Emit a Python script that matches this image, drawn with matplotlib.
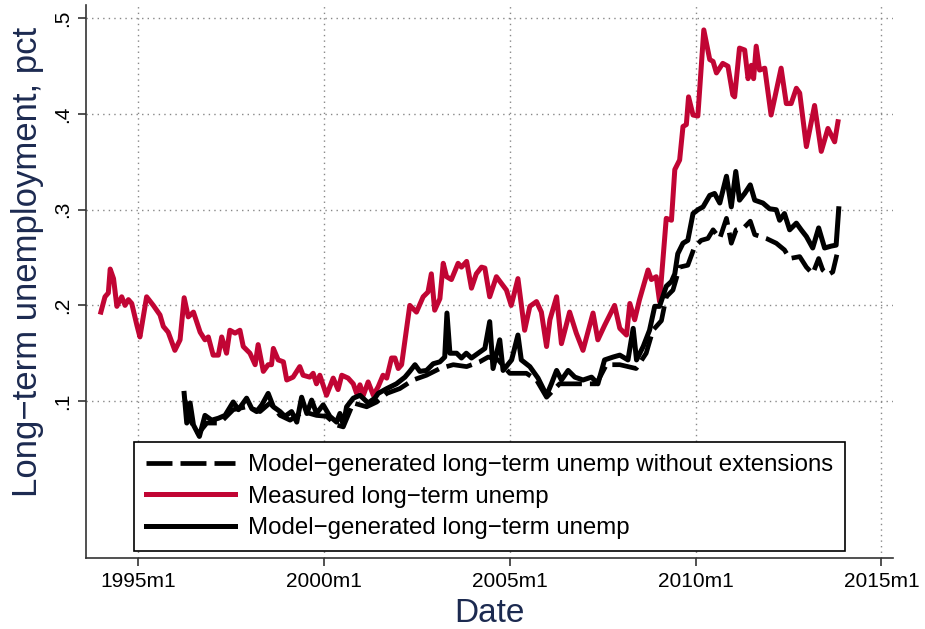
import numpy as np
import matplotlib
matplotlib.use("Agg")
import matplotlib.pyplot as plt

# dates as decimal years, values as share of labour force
meas_t = [1994.00, 1994.11, 1994.20, 1994.25, 1994.34, 1994.43, 1994.56, 1994.65, 1994.74, 1994.83,
          1994.97, 1995.05, 1995.23, 1995.41, 1995.59, 1995.68, 1995.81, 1995.99, 1996.13, 1996.24,
          1996.35, 1996.49, 1996.67, 1996.80, 1996.89, 1997.02, 1997.16, 1997.25, 1997.38, 1997.47,
          1997.61, 1997.74, 1997.83, 1998.01, 1998.15, 1998.23, 1998.37, 1998.50, 1998.59, 1998.64,
          1998.77, 1998.91, 1999.00, 1999.17, 1999.35, 1999.44, 1999.62, 1999.71, 1999.80, 1999.89,
          2000.07, 2000.25, 2000.38, 2000.48, 2000.65, 2000.79, 2000.88, 2000.97, 2001.06, 2001.19,
          2001.33, 2001.46, 2001.59, 2001.69, 2001.82, 2001.91, 2002.00, 2002.09, 2002.31, 2002.49,
          2002.67, 2002.80, 2002.89, 2002.98, 2003.12, 2003.21, 2003.30, 2003.43, 2003.61, 2003.70,
          2003.84, 2003.97, 2004.10, 2004.24, 2004.33, 2004.46, 2004.64, 2004.91, 2005.04, 2005.22,
          2005.40, 2005.54, 2005.72, 2005.85, 2005.99, 2006.08, 2006.26, 2006.39, 2006.61, 2006.79,
          2006.97, 2007.24, 2007.37, 2007.55, 2007.82, 2007.96, 2008.14, 2008.23, 2008.36, 2008.49,
          2008.72, 2008.81, 2008.94, 2009.03, 2009.21, 2009.35, 2009.44, 2009.57, 2009.66, 2009.75,
          2009.81, 2009.93, 2010.06, 2010.22, 2010.38, 2010.47, 2010.56, 2010.73, 2010.87, 2011.00,
          2011.05, 2011.18, 2011.32, 2011.41, 2011.50, 2011.56, 2011.63, 2011.72, 2011.86, 2012.03,
          2012.30, 2012.44, 2012.57, 2012.71, 2012.80, 2012.98, 2013.20, 2013.38, 2013.56, 2013.74,
          2013.83]
meas_v = [0.193, 0.209, 0.213, 0.238, 0.228, 0.199, 0.209, 0.200, 0.206, 0.202,
          0.179, 0.167, 0.209, 0.200, 0.190, 0.178, 0.172, 0.153, 0.164, 0.208,
          0.188, 0.193, 0.172, 0.164, 0.167, 0.148, 0.148, 0.167, 0.150, 0.174,
          0.171, 0.174, 0.157, 0.150, 0.138, 0.159, 0.131, 0.138, 0.138, 0.155,
          0.143, 0.141, 0.122, 0.125, 0.136, 0.127, 0.125, 0.129, 0.118, 0.127,
          0.106, 0.124, 0.112, 0.127, 0.124, 0.118, 0.108, 0.117, 0.106, 0.120,
          0.106, 0.115, 0.127, 0.124, 0.145, 0.145, 0.134, 0.138, 0.200, 0.193,
          0.209, 0.214, 0.233, 0.195, 0.207, 0.244, 0.230, 0.227, 0.244, 0.240,
          0.246, 0.218, 0.233, 0.240, 0.239, 0.209, 0.230, 0.216, 0.200, 0.228,
          0.174, 0.199, 0.204, 0.193, 0.157, 0.185, 0.209, 0.160, 0.193, 0.171,
          0.153, 0.192, 0.164, 0.179, 0.200, 0.176, 0.169, 0.202, 0.185, 0.206,
          0.237, 0.227, 0.230, 0.204, 0.291, 0.289, 0.342, 0.352, 0.387, 0.389,
          0.418, 0.399, 0.398, 0.488, 0.457, 0.455, 0.443, 0.453, 0.450, 0.420,
          0.418, 0.469, 0.467, 0.437, 0.451, 0.437, 0.471, 0.446, 0.448, 0.399,
          0.448, 0.411, 0.411, 0.427, 0.422, 0.366, 0.409, 0.361, 0.385, 0.371,
          0.392]

model_t = [1996.24, 1996.31, 1996.40, 1996.49, 1996.65, 1996.80, 1996.98, 1997.16, 1997.34, 1997.56,
           1997.70, 1997.92, 1998.06, 1998.19, 1998.33, 1998.50, 1998.64, 1998.82, 1998.95, 1999.13,
           1999.27, 1999.40, 1999.54, 1999.67, 1999.80, 1999.98, 2000.16, 2000.34, 2000.43, 2000.52,
           2000.61, 2000.79, 2000.97, 2001.19, 2001.37, 2001.46, 2001.69, 2001.95, 2002.18, 2002.31,
           2002.45, 2002.58, 2002.76, 2002.94, 2003.12, 2003.25, 2003.31, 2003.39, 2003.57, 2003.70,
           2003.83, 2003.97, 2004.15, 2004.33, 2004.46, 2004.55, 2004.73, 2004.82, 2005.05, 2005.22,
           2005.31, 2005.54, 2005.76, 2005.99, 2006.12, 2006.26, 2006.39, 2006.57, 2006.75, 2006.97,
           2007.20, 2007.37, 2007.55, 2007.78, 2007.96, 2008.18, 2008.32, 2008.41, 2008.59, 2008.76,
           2008.90, 2009.03, 2009.21, 2009.35, 2009.44, 2009.52, 2009.66, 2009.79, 2009.93, 2010.06,
           2010.20, 2010.38, 2010.51, 2010.65, 2010.83, 2010.96, 2011.08, 2011.18, 2011.32, 2011.47,
           2011.59, 2011.81, 2011.99, 2012.17, 2012.26, 2012.39, 2012.53, 2012.71, 2012.84, 2012.98,
           2013.15, 2013.31, 2013.47, 2013.65, 2013.78, 2013.85]
model_v = [0.108, 0.077, 0.098, 0.075, 0.063, 0.085, 0.080, 0.082, 0.085, 0.099,
           0.091, 0.103, 0.092, 0.089, 0.096, 0.108, 0.094, 0.089, 0.084, 0.089,
           0.078, 0.104, 0.087, 0.101, 0.087, 0.096, 0.084, 0.078, 0.087, 0.075,
           0.094, 0.103, 0.106, 0.098, 0.103, 0.108, 0.113, 0.118, 0.125, 0.131,
           0.138, 0.131, 0.132, 0.139, 0.141, 0.146, 0.192, 0.150, 0.150, 0.145,
           0.150, 0.145, 0.150, 0.155, 0.183, 0.134, 0.164, 0.132, 0.143, 0.169,
           0.143, 0.136, 0.124, 0.106, 0.118, 0.132, 0.122, 0.132, 0.125, 0.122,
           0.125, 0.118, 0.143, 0.146, 0.148, 0.143, 0.176, 0.143, 0.157, 0.174,
           0.199, 0.199, 0.220, 0.225, 0.233, 0.254, 0.265, 0.268, 0.296, 0.300,
           0.303, 0.315, 0.317, 0.307, 0.335, 0.303, 0.340, 0.310, 0.317, 0.326,
           0.310, 0.307, 0.301, 0.300, 0.289, 0.296, 0.279, 0.286, 0.279, 0.272,
           0.260, 0.281, 0.260, 0.262, 0.263, 0.301]

noext_t = [1996.26, 1996.40, 1996.62, 1996.85, 1997.20, 1997.56, 1997.92, 1998.28, 1998.55, 1998.82,
           1999.09, 1999.44, 1999.80, 2000.07, 2000.34, 2000.52, 2000.79, 2001.15, 2001.42, 2001.69,
           2002.04, 2002.40, 2002.76, 2003.12, 2003.48, 2003.84, 2004.19, 2004.42, 2004.69, 2005.00,
           2005.45, 2005.72, 2005.99, 2006.34, 2006.88, 2007.33, 2007.60, 2007.96, 2008.40, 2008.67,
           2008.85, 2009.08, 2009.21, 2009.39, 2009.57, 2009.79, 2009.97, 2010.15, 2010.33, 2010.47,
           2010.65, 2010.83, 2010.96, 2011.09, 2011.32, 2011.47, 2011.59, 2011.90, 2012.17, 2012.39,
           2012.53, 2012.80, 2012.98, 2013.15, 2013.31, 2013.42, 2013.56, 2013.69, 2013.80]
noext_v = [0.101, 0.080, 0.066, 0.077, 0.077, 0.091, 0.094, 0.089, 0.098, 0.085,
           0.080, 0.089, 0.085, 0.084, 0.075, 0.073, 0.098, 0.094, 0.099, 0.108,
           0.113, 0.122, 0.127, 0.134, 0.138, 0.136, 0.141, 0.146, 0.143, 0.129,
           0.129, 0.122, 0.104, 0.118, 0.118, 0.118, 0.138, 0.138, 0.134, 0.150,
           0.174, 0.184, 0.209, 0.216, 0.240, 0.242, 0.261, 0.268, 0.270, 0.279,
           0.270, 0.291, 0.265, 0.279, 0.282, 0.288, 0.274, 0.270, 0.265, 0.258,
           0.249, 0.251, 0.240, 0.233, 0.249, 0.237, 0.232, 0.235, 0.253]

xticks = [1995, 2000, 2005, 2010, 2015]
xtick_labels = ["1995m1", "2000m1", "2005m1", "2010m1", "2015m1"]
yticks = [0.1, 0.2, 0.3, 0.4, 0.5]
ytick_labels = [".1", ".2", ".3", ".4", ".5"]

plt.rcParams['font.family'] = ['Liberation Sans Narrow', 'Liberation Sans', 'DejaVu Sans']
navy = '#1c2a50'
red = '#c10534'

fig = plt.figure(figsize=(9.25, 6.29), dpi=100)
ax = fig.add_axes([0.093, 0.113, 0.872, 0.879])

ax.plot(noext_t, noext_v, color='black', lw=3.4, ls=(0, (5.5, 1.7)),
        label="Model\u2212generated long\u2212term unemp without extensions")
ax.plot(meas_t, meas_v, color=red, lw=3.6, label="Measured long\u2212term unemp")
ax.plot(model_t, model_v, color='black', lw=3.6, label="Model\u2212generated long\u2212term unemp")

ax.set_xlim(1993.6, 2015.3)
ax.set_ylim(-0.064, 0.514)
ax.set_xticks(xticks)
ax.set_xticklabels(xtick_labels)
ax.set_yticks(yticks)
ax.set_yticklabels(ytick_labels, rotation=90, va='center')
ax.grid(True, color='#888888', ls=(0, (1, 3)), lw=1.0)
ax.set_axisbelow(True)

for s in ['top', 'right']:
    ax.spines[s].set_visible(False)
for s in ['left', 'bottom']:
    ax.spines[s].set_color('#333333')
    ax.spines[s].set_linewidth(1.2)
ax.tick_params(direction='out', length=6, width=1.2, colors='#333333', labelcolor='black',
               labelsize=15, pad=4)

ax.set_xlabel("Date", color=navy, fontsize=24, labelpad=5)
ax.set_ylabel("Long\u2212term unemployment, pct", color=navy, fontsize=25)
ax.yaxis.set_label_coords(-0.052, 0.535)

leg = ax.legend(loc='lower left', bbox_to_anchor=(0.059, 0.012), fontsize=17.3,
                frameon=True, fancybox=False, edgecolor='black', framealpha=1,
                handlelength=3.7, handletextpad=0.55, borderpad=0.5, labelspacing=0.4,
                borderaxespad=0)
leg.get_frame().set_linewidth(1.2)

fig.savefig("out.png", dpi=100)
